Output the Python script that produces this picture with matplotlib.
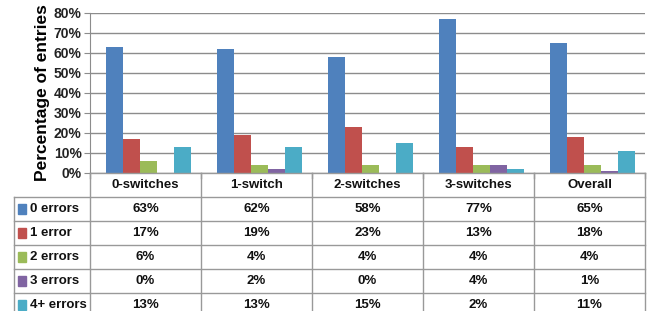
import matplotlib
matplotlib.use("Agg")
import matplotlib.pyplot as plt
from matplotlib.patches import Rectangle

plt.rcParams['font.family'] = ['Liberation Sans', 'DejaVu Sans']

# data
groups = ["0-switches", "1-switch", "2-switches", "3-switches", "Overall"]
series = ["0 errors", "1 error", "2 errors", "3 errors", "4+ errors"]
zero_err = [63, 62, 58, 77, 65]
one_err = [17, 19, 23, 13, 18]
two_err = [6, 4, 4, 4, 4]
three_err = [0, 2, 0, 4, 1]
four_err = [13, 13, 15, 2, 11]
all_vals = [zero_err, one_err, two_err, three_err, four_err]
colors = ["#4F81BD", "#C0504D", "#9BBB59", "#8064A2", "#4BACC6"]

W, H = 648, 311
fig = plt.figure(figsize=(W / 100, H / 100), dpi=100)

x0, x1 = 90, 645
ytop, ybot = 13, 173
ax = fig.add_axes([x0 / W, 1 - ybot / H, (x1 - x0) / W, (ybot - ytop) / H])

bw = 0.153
for k in range(len(series)):
    xs = [i + 0.03 + (k - 2) * bw for i in range(len(groups))]
    ax.bar(xs, all_vals[k], width=bw, color=colors[k], zorder=3)

ax.set_xlim(-0.5, len(groups) - 0.5)
ax.set_ylim(0, 80)
ax.set_yticks(range(0, 81, 10))
ax.set_yticklabels([f"{v}%" for v in range(0, 81, 10)], fontsize=10,
                   fontweight="bold", color="#222222")
ax.set_xticks([])
ax.grid(axis="y", color="#8c8c8c", linewidth=1, zorder=0)
for s in ["top", "right", "bottom"]:
    ax.spines[s].set_visible(False)
ax.spines["left"].set_color("#8c8c8c")
ax.tick_params(axis="y", length=4, color="#8c8c8c", pad=2)
ax.set_ylabel("Percentage of entries", fontsize=12.5, fontweight="bold", labelpad=3)

# data table below the plot
row_h = 24
n_rows = len(series) + 1
tab = fig.add_axes([x0 / W, 1 - (ybot + row_h * n_rows) / H,
                    (x1 - x0) / W, row_h * n_rows / H])
tab.set_xlim(-0.5, len(groups) - 0.5)
tab.set_ylim(n_rows, 0)
tab.axis("off")

lc = "#999999"
left_ext = (14 - x0) / (x1 - x0) * len(groups) - 0.5
# horizontal lines
for r in range(n_rows + 1):
    xa = -0.5 if r == 0 else left_ext
    tab.plot([xa, len(groups) - 0.5], [r, r], color=lc, lw=1, clip_on=False)
# vertical lines
for c in range(len(groups) + 1):
    tab.plot([c - 0.5, c - 0.5], [0, n_rows], color=lc, lw=1, clip_on=False)
tab.plot([left_ext, left_ext], [1, n_rows], color=lc, lw=1, clip_on=False)
# small ticks above the table at group borders
for c in range(len(groups) + 1):
    ax.plot([c - 0.5, c - 0.5], [0, -2.5], color=lc, lw=1, clip_on=False)

for i, g in enumerate(groups):
    tab.text(i, 0.5, g, ha="center", va="center", fontsize=9.5,
             fontweight="bold", color="#111111")
for k, name in enumerate(series):
    for i in range(len(groups)):
        tab.text(i, k + 1.5, f"{all_vals[k][i]}%", ha="center", va="center",
                 fontsize=9.5, fontweight="bold", color="#111111")
    kx = left_ext + 0.04
    tab.add_patch(Rectangle((kx, k + 1.5 - 0.2), 0.065, 0.4, color=colors[k],
                            clip_on=False))
    tab.text(kx + 0.1, k + 1.5, name, ha="left", va="center", fontsize=9.5,
             fontweight="bold", color="#111111", clip_on=False)

fig.savefig("out.png", dpi=100)
